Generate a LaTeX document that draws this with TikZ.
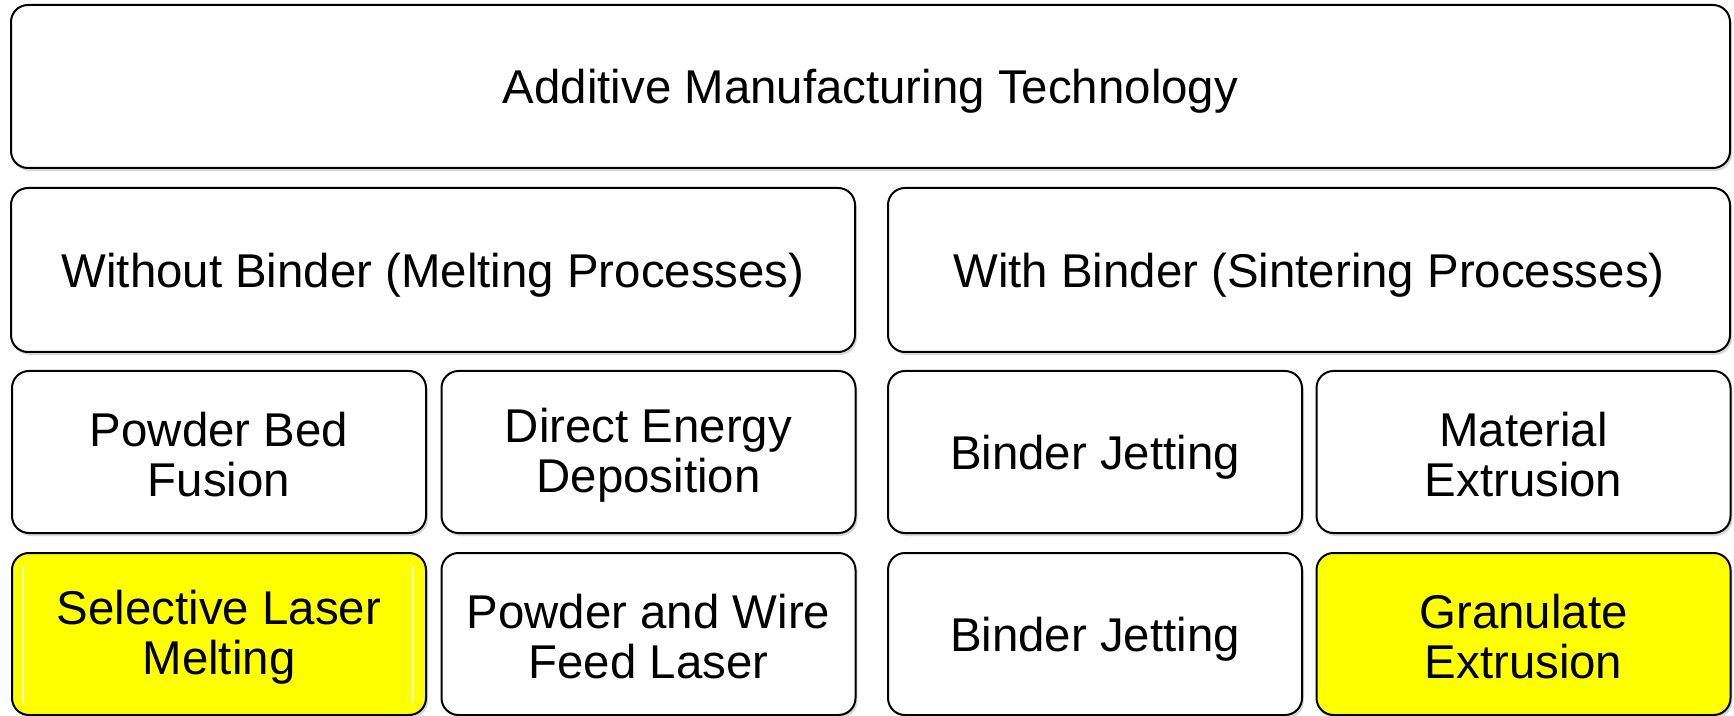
\documentclass[tikz,border=0pt]{standalone}
\usepackage{fontspec}
\setmainfont{Liberation Sans}
\usetikzlibrary{calc,positioning,shadows}
\definecolor{SlmYellow}{RGB}{255,255,0}

\begin{document}
\begin{tikzpicture}[x=0.5pt, y=-0.5pt,
       black, text=black, line width=1pt,
       every node/.style={font=\fontsize{23.7pt}{25pt}\selectfont},
       amtbox/.style 2 args = {rectangle, rounded corners=8.5pt, draw=black, fill=white,
                               inner sep=0pt, align=center,
                               minimum width=#1, minimum height=#2,
                               drop shadow={shadow xshift=1pt, shadow yshift=-1.5pt,
                                            fill=black!30, opacity=.5}},
       oneline/.style = {text height=22pt},
       twoline/.style = {text height=45pt},
       nohilite/.style = {},
       hilite/.style = {fill=SlmYellow,
                        path picture={
                          \draw[white, line width=.8pt, opacity=.8]
                            ($(path picture bounding box.north west)+(5.5pt,-6.5pt)$) --
                            ($(path picture bounding box.south west)+(5.5pt,6pt)$)
                            ($(path picture bounding box.north east)+(-6.5pt,-6.5pt)$) --
                            ($(path picture bounding box.south east)+(-6.5pt,6pt)$);}}]

	\useasboundingbox (0,0) rectangle (1734,716);

	%% Top level
	\node[amtbox={859.5pt}{81.5pt}, oneline] (amt) at (870.5,86.5) {Additive Manufacturing Technology};

	%% Split by binder
	\node[amtbox={422pt}{82pt}, oneline] (nobinder) at (433,270) {Without Binder (Melting Processes)};
	\node[amtbox={421pt}{82pt}, oneline] (binder) at (1309,270) {With Binder (Sintering Processes)};

	%% Process categories
	\foreach \cx/\nm/\txt/\ln in {219/pbf/{Powder Bed\\Fusion}/twoline, 648.5/ded/{Direct Energy\\Deposition}/twoline,
	                              1095/bj/{Binder Jetting}/oneline, 1523.5/mex/{Material\\Extrusion}/twoline}
		{\node[amtbox={207pt}{81pt}, \ln] (\nm) at (\cx,452) {\txt};}

	%% Processes (highlighted ones are used)
	\foreach \up/\nm/\txt/\ln/\hl in {pbf/slm/{Selective Laser\\Melting}/twoline/hilite,
	                                  ded/pwf/{Powder and Wire\\Feed Laser}/twoline/nohilite,
	                                  bj/bjp/{Binder Jetting}/oneline/nohilite,
	                                  mex/gex/{Granulate\\Extrusion}/twoline/hilite}
		{\node[amtbox={207pt}{81pt}, \ln, \hl, below=9pt of \up] (\nm) {\txt};}
\end{tikzpicture}
\end{document}
